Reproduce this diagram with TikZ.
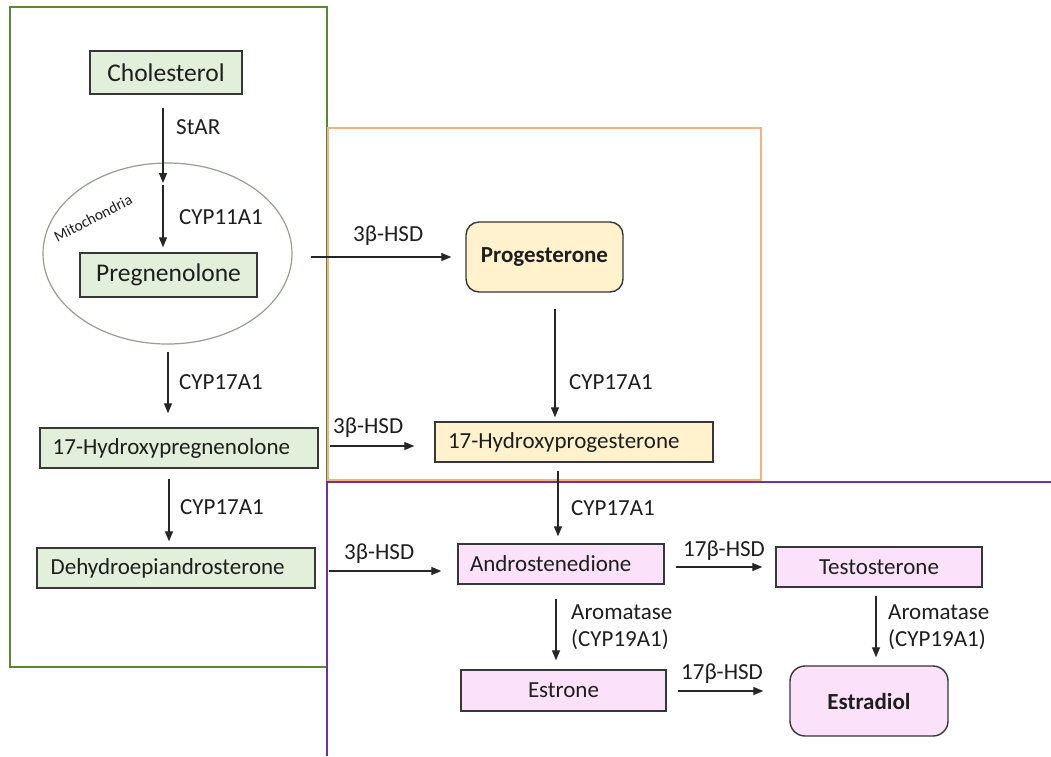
\documentclass[tikz,border=0pt]{standalone}
\usepackage{fontspec}
\setmainfont{Carlito}
\usetikzlibrary{arrows.meta,shapes.geometric}
\definecolor{gframe}{RGB}{88,136,56}
\definecolor{oframe}{RGB}{244,177,131}
\definecolor{pframe}{RGB}{112,48,160}
\definecolor{gfill}{RGB}{226,239,218}
\definecolor{yfill}{RGB}{255,242,204}
\definecolor{pfill}{RGB}{251,226,250}
\definecolor{boxline}{RGB}{55,55,55}
\definecolor{txt}{RGB}{30,30,30}
\definecolor{mitoline}{RGB}{150,160,140}
\begin{document}
\begin{tikzpicture}[x=1pt,y=-1pt,
  box/.style={draw=boxline, line width=1.4pt, inner sep=0pt, text=txt,
    font=\fontsize{23}{27}\selectfont},
  gbox/.style={box, fill=gfill},
  ybox/.style={box, fill=yfill},
  pbox/.style={box, fill=pfill},
  lab/.style={anchor=base west, inner sep=0pt, text=txt,
    font=\fontsize{23}{27}\selectfont},
  arr/.style={-{Triangle[length=10pt,width=8pt]}, line width=1.3pt, draw=black!85},
  frame/.style={line width=2.6pt}]
\useasboundingbox (0,0) rectangle (1051,756);
\fill[white] (0,0) rectangle (1051,756);

% frames
\draw[frame, draw=gframe] (10,7) rectangle (327,667);
\draw[frame, draw=oframe] (328,128) rectangle (761,480);
\draw[frame, draw=pframe] (1051,482) -- (327,482) -- (327,756);

% nodes
\node[gbox, minimum width=152pt, minimum height=43pt, font=\fontsize{25.5}{29}\selectfont] (chol) at (166,72.5) {Cholesterol};
\node[draw=mitoline, line width=1.2pt, ellipse, minimum width=249pt, minimum height=181pt] (mito) at (167.5,253.5) {};
\node[rotate=27, inner sep=0pt, text=txt, font=\fontsize{15.5}{18}\selectfont] (mitolab) at (93,218) {Mitochondria};
\node[gbox, minimum width=177pt, minimum height=44pt, font=\fontsize{25.5}{29}\selectfont] (preg) at (168.5,275) {Pregnenolone};
\node[gbox, minimum width=278pt, minimum height=40pt, text width=252.6pt, align=left] (ohpreg) at (179,448) {17-Hydroxypregnenolone};
\node[gbox, minimum width=278pt, minimum height=40pt, text width=250.6pt, align=left] (dhea) at (176,568) {Dehydroepiandrosterone};

\node[ybox, rounded corners=13pt, minimum width=157pt, minimum height=70pt, font=\fontsize{23}{27}\selectfont\bfseries] (prog) at (544.5,257) {Progesterone};
\node[ybox, minimum width=278pt, minimum height=40pt, text width=252pt, align=left] (ohp) at (574,442) {17-Hydroxyprogesterone};

\node[pbox, minimum width=206pt, minimum height=40pt, text width=182pt, align=left] (andro) at (561,564) {Androstenedione};
\node[pbox, minimum width=206pt, minimum height=40pt] (testo) at (879,567) {Testosterone};
\node[pbox, minimum width=205pt, minimum height=41pt] (estrone) at (563.5,690.5) {Estrone};
\node[pbox, rounded corners=15pt, minimum width=158pt, minimum height=70pt, font=\fontsize{23}{27}\selectfont\bfseries] (estradiol) at (869,701) {Estradiol};

% connectors
\coordinate (m1) at (163,183);
\draw[arr] ([xshift=-3pt,yshift=-13pt]chol.south) -- (m1);
\draw[arr] ([yshift=-2pt]m1) -- ([xshift=-5.5pt,yshift=5pt]preg.north);
\draw[arr] ([xshift=0.5pt,yshift=-7pt]mito.south) -- ([xshift=-11pt,yshift=14pt]ohpreg.north);
\draw[arr] ([xshift=-10pt,yshift=-10pt]ohpreg.south) -- ([xshift=-7pt,yshift=6pt]dhea.north);
\draw[arr, shorten <=18pt, shorten >=14pt] (mito.east |- prog.west) -- (prog.west);
\draw[arr] ([xshift=10.5pt,yshift=-16pt]prog.south) -- ([xshift=-19pt,yshift=4pt]ohp.north);
\draw[arr, shorten <=11pt, shorten >=20pt] ([yshift=2pt]ohpreg.east) -- ([yshift=-4pt]ohp.west);
\draw[arr] ([xshift=-16pt,yshift=-8pt]ohp.south) -- ([xshift=-3pt,yshift=7pt]andro.north);
\draw[arr] ([xshift=13pt,yshift=-3pt]dhea.east) -- ([xshift=-16pt,yshift=-7pt]andro.west);
\draw[arr] ([xshift=11pt,yshift=-3pt]andro.east) -- ([xshift=-13pt]testo.west);
\draw[arr] ([xshift=-3pt,yshift=-8pt]testo.south) -- ([xshift=7pt,yshift=8pt]estradiol.north);
\draw[arr] ([xshift=-5pt,yshift=-14pt]andro.south) -- ([xshift=-7.5pt,yshift=9pt]estrone.north);
\draw[arr] ([xshift=11pt,yshift=-0.5pt]estrone.east) -- ([xshift=-26pt,yshift=10pt]estradiol.west);

% labels
\node[lab] (l1) at (176,134.5) {StAR};
\node[lab] (l2) at (179,224.5) {CYP11A1};
\node[lab] (l3) at (179,389.5) {CYP17A1};
\node[lab] (l4) at (180,514.5) {CYP17A1};
\node[lab] (l5) at (353,241.5) {3β-HSD};
\node[lab] (l6) at (569,389.5) {CYP17A1};
\node[lab] (l7) at (333,433.5) {3β-HSD};
\node[lab] (l8) at (571,515.5) {CYP17A1};
\node[lab] (l9) at (344,559.5) {3β-HSD};
\node[lab] (l10) at (683,556.5) {17β-HSD};
\node[lab] (l11a) at (571,619.5) {Aromatase};
\node[lab] (l11b) at (571,646.5) {(CYP19A1)};
\node[lab] (l12a) at (888,619.5) {Aromatase};
\node[lab] (l12b) at (888,646.5) {(CYP19A1)};
\node[lab] (l13) at (681,679.5) {17β-HSD};
\end{tikzpicture}
\end{document}
